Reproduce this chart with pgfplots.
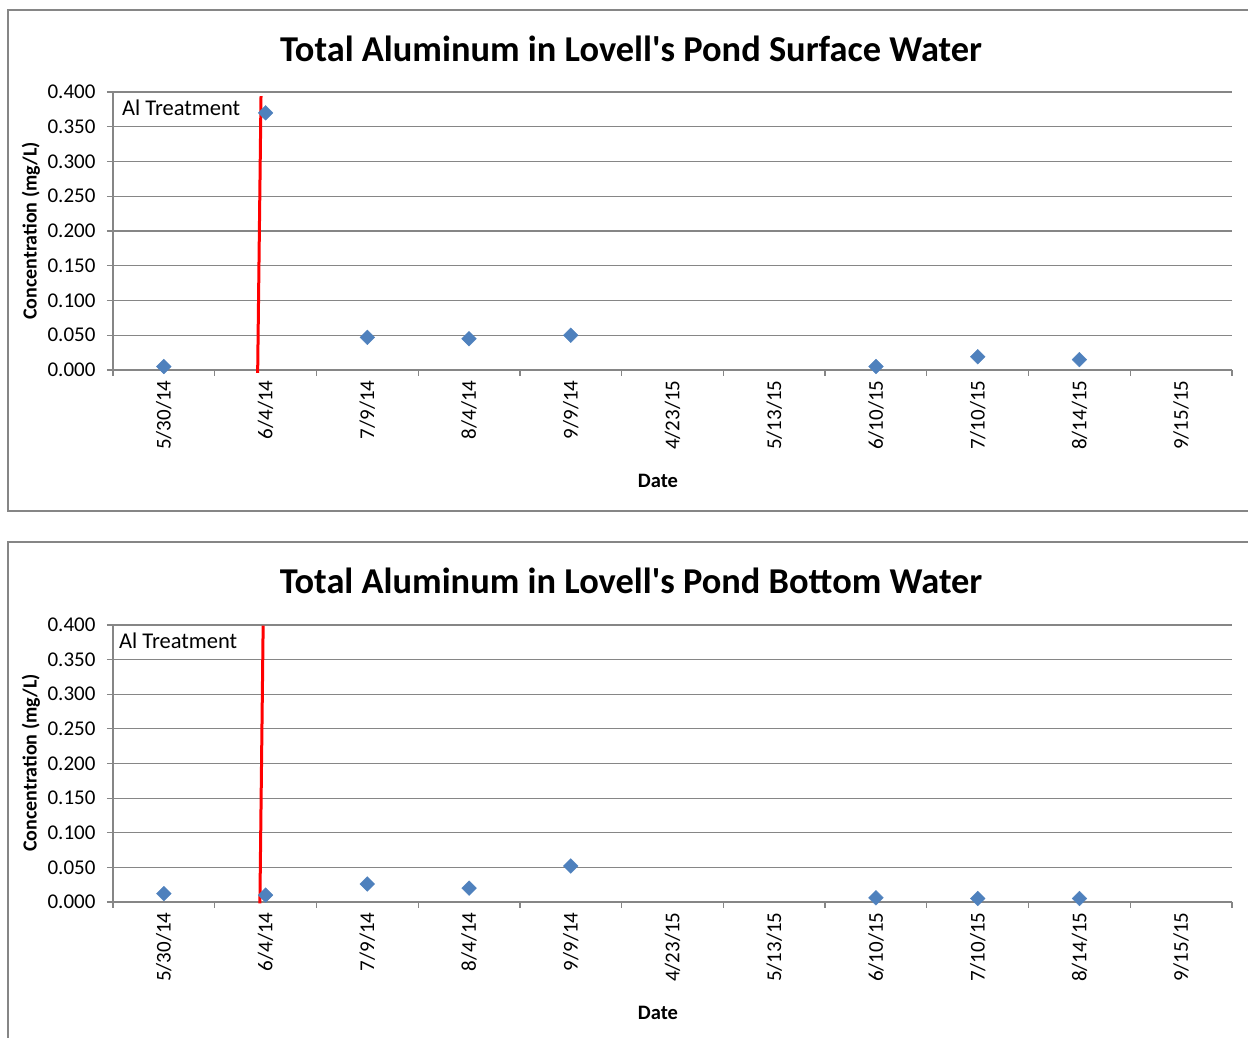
\documentclass[border=0pt]{standalone}
\usepackage{fontspec}
\setmainfont{Carlito}[Ligatures=TeXOff]
\usepackage{pgfplots}
\pgfplotsset{compat=1.18}
\definecolor{mk}{HTML}{4F81BD}
\definecolor{gr}{HTML}{868686}
\pgfplotsset{
  chartbase/.style={
    width=1119pt, scale only axis,
    xmin=-0.5, xmax=10.5, ymin=0, ymax=0.4,
    clip=false,
    axis x line*=bottom, axis y line*=left,
    axis line style={gr, line width=1.2pt},
    ymajorgrids, grid style={gr, line width=1.1pt},
    tick align=outside,
    xtick={0,...,10},
    xticklabels={5/30/14,6/4/14,7/9/14,8/4/14,9/9/14,4/23/15,5/13/15,6/10/15,7/10/15,8/14/15,9/15/15},
    major x tick style={draw=none},
    minor xtick={-0.5,0.5,...,10.5},
    minor tick length=6pt, major tick length=6pt,
    every tick/.style={gr, line width=1.2pt},
    ytick={0,0.05,0.1,0.15,0.2,0.25,0.3,0.35,0.4},
    /pgf/number format/assume math mode=true,
    yticklabel style={xshift=-8pt, /pgf/number format/.cd, fixed, fixed zerofill, precision=3},
    tick label style={font=\fontsize{21}{25}\selectfont},
    xticklabel style={yshift=-1pt, rotate=90, anchor=east},
  },
  pts/.style={only marks, mark=square*, mark size=5.2pt, mark options={rotate=45, fill=mk, draw=mk}},
}
\begin{document}
\begin{tikzpicture}
\useasboundingbox (0pt,0pt) rectangle (1248pt,1038pt);
% frames
\draw[gr, line width=1.5pt] (1250pt,1028pt) -- (8pt,1028pt) -- (8pt,527pt) -- (1250pt,527pt);
\draw[gr, line width=1.5pt] (1250pt,496pt) -- (8pt,496pt) -- (8pt,-5pt);
% top chart
\begin{axis}[chartbase, height=278pt, at={(113pt,668pt)}, anchor=south west]
\addplot[red, line width=3pt] coordinates {(0.955,0.394) (0.922,-0.004)};
\addplot[pts] coordinates {(0,0.005) (1,0.370) (2,0.047) (3,0.045) (4,0.050) (7,0.005) (8,0.019) (9,0.015)};
\end{axis}
\node[font=\fontsize{36.4}{42}\selectfont\bfseries] at (631pt,989pt) {Total Aluminum in Lovell's Pond Surface Water};
\node[font=\fontsize{20.5}{24}\selectfont\bfseries] at (658pt,557pt) {Date};
\node[font=\fontsize{20}{24}\selectfont\bfseries, rotate=90] at (31pt,807pt) {Concentration (mg/L)};
\node[font=\fontsize{22.5}{27}\selectfont, anchor=west, inner sep=0pt] at (122pt,930pt) {Al Treatment};
% bottom chart
\begin{axis}[chartbase, height=277pt, at={(113pt,136pt)}, anchor=south west]
\addplot[pts] coordinates {(0,0.012) (1,0.010) (2,0.026) (3,0.020) (4,0.052) (7,0.006) (8,0.005) (9,0.005)};
\addplot[red, line width=3pt] coordinates {(0.976,0.399) (0.944,-0.002)};
\end{axis}
\node[font=\fontsize{36.4}{42}\selectfont\bfseries] at (631pt,457pt) {Total Aluminum in Lovell's Pond Bottom Water};
\node[font=\fontsize{20.5}{24}\selectfont\bfseries] at (658pt,25pt) {Date};
\node[font=\fontsize{20}{24}\selectfont\bfseries, rotate=90] at (31pt,275pt) {Concentration (mg/L)};
\node[font=\fontsize{22.5}{27}\selectfont, anchor=west, inner sep=0pt] at (119pt,397pt) {Al Treatment};
\end{tikzpicture}
\end{document}
